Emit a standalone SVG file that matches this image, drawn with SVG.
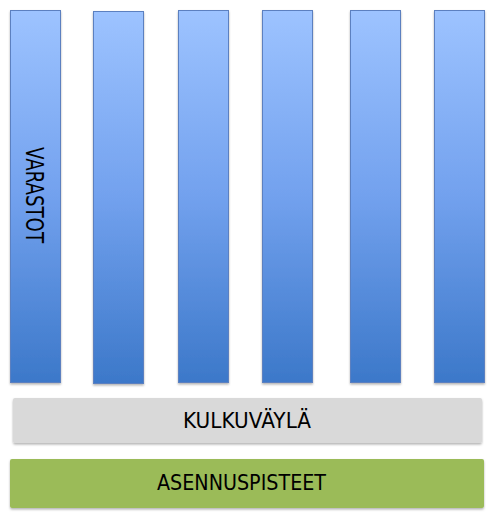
<svg xmlns="http://www.w3.org/2000/svg" width="499" height="522" viewBox="0 0 499 522">
<defs>
<linearGradient id="blue" x1="0" y1="0" x2="0" y2="1">
<stop offset="0" stop-color="#9DC3FF"/>
<stop offset="0.5" stop-color="#72A1EE"/>
<stop offset="1" stop-color="#3C78C9"/>
</linearGradient>
<filter id="sh" x="-10%" y="-10%" width="120%" height="120%">
<feDropShadow dx="0" dy="1.5" stdDeviation="1" flood-color="#000" flood-opacity="0.3"/>
</filter>
</defs>
<style>
.bar{fill:url(#blue);stroke:#5B80C0;stroke-width:1}
.lbl{font-family:"DejaVu Sans",sans-serif;font-size:20.5px;fill:#000}
</style>
<rect width="499" height="522" fill="#fff"/>
<g id="bar1"><rect class="bar" x="10.5" y="10.5" width="50" height="372" filter="url(#sh)"/>
<text class="lbl" transform="translate(25.5,147) rotate(90)" style="font-size:25px" textLength="96" lengthAdjust="spacingAndGlyphs">VARASTOT</text></g>
<g id="bar2"><rect class="bar" x="93.5" y="11.5" width="50" height="372" filter="url(#sh)"/></g>
<g id="bar3"><rect class="bar" x="178.5" y="10.5" width="50" height="372" filter="url(#sh)"/></g>
<g id="bar4"><rect class="bar" x="262.5" y="10.5" width="50" height="372" filter="url(#sh)"/></g>
<g id="bar5"><rect class="bar" x="350.5" y="10.5" width="50" height="372" filter="url(#sh)"/></g>
<g id="bar6"><rect class="bar" x="434.5" y="10.5" width="50" height="372" filter="url(#sh)"/></g>
<g id="kulkuvayla"><rect x="13" y="398" width="469" height="45" rx="2" fill="#D9D9D9" filter="url(#sh)"/>
<text class="lbl" x="247" y="428" text-anchor="middle" textLength="128" lengthAdjust="spacingAndGlyphs">KULKUVÄYLÄ</text></g>
<g id="asennuspisteet"><rect x="10" y="459" width="474" height="49" rx="2" fill="#9BBB59" filter="url(#sh)"/>
<text class="lbl" x="241.5" y="490" text-anchor="middle" textLength="169" lengthAdjust="spacingAndGlyphs">ASENNUSPISTEET</text></g>
<g id="connectors"/>
</svg>
